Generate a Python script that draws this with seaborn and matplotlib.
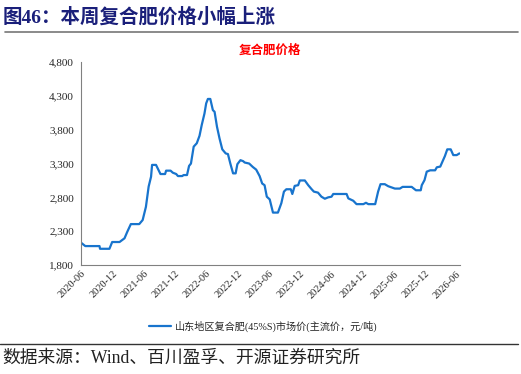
import pandas as pd
import matplotlib
matplotlib.use("Agg")
import matplotlib.pyplot as plt
import matplotlib.ticker as mticker
import seaborn as sns

# 山东地区复合肥(45%S)市场价 (元/吨)
dates = [
    "2020-06-01", "2020-06-26", "2020-09-17", "2020-09-20", "2020-11-14", "2020-11-30",
    "2021-01-12", "2021-02-10", "2021-02-26", "2021-03-19", "2021-05-07", "2021-05-27",
    "2021-06-15", "2021-07-01", "2021-07-15", "2021-07-21", "2021-08-13", "2021-09-08",
    "2021-10-05", "2021-10-11", "2021-11-06", "2021-11-19", "2021-12-09", "2021-12-19",
    "2022-01-13", "2022-01-21", "2022-02-10", "2022-02-22", "2022-03-05", "2022-03-21",
    "2022-04-08", "2022-04-24", "2022-05-07", "2022-05-23", "2022-06-02", "2022-06-12",
    "2022-06-26", "2022-07-11", "2022-07-21", "2022-08-04", "2022-08-19", "2022-09-04",
    "2022-09-24", "2022-10-07", "2022-10-21", "2022-11-06", "2022-11-21", "2022-12-01",
    "2022-12-19", "2023-01-04", "2023-01-13", "2023-02-08", "2023-03-01", "2023-03-21",
    "2023-04-10", "2023-04-25", "2023-05-09", "2023-05-22", "2023-06-08", "2023-06-27",
    "2023-07-26", "2023-08-15", "2023-08-30", "2023-09-13", "2023-10-09", "2023-10-18",
    "2023-11-01", "2023-11-21", "2023-12-01", "2023-12-30", "2024-01-19", "2024-02-08",
    "2024-02-21", "2024-03-16", "2024-04-05", "2024-04-25", "2024-05-14", "2024-06-03",
    "2024-06-13", "2024-08-30", "2024-09-09", "2024-10-08", "2024-10-27", "2024-12-06",
    "2024-12-21", "2025-01-04", "2025-02-13", "2025-03-02", "2025-03-16", "2025-04-10",
    "2025-04-30", "2025-06-08", "2025-07-07", "2025-07-23", "2025-09-14", "2025-10-09",
    "2025-11-06", "2025-11-12", "2025-11-28", "2025-12-11", "2025-12-31", "2026-01-29",
    "2026-02-08", "2026-02-28", "2026-03-13", "2026-03-27", "2026-04-10", "2026-04-30",
    "2026-05-15", "2026-06-04", "2026-06-20",
]
prices = [
    2130, 2080, 2080, 2040, 2040, 2140,
    2140, 2195, 2290, 2405, 2405, 2465,
    2660, 2960, 3105, 3280, 3280, 3145,
    3145, 3195, 3195, 3165, 3145, 3115,
    3115, 3130, 3130, 3265, 3300, 3550,
    3600, 3710, 3870, 4040, 4190, 4255,
    4255, 4090, 4065, 3845, 3670, 3510,
    3450, 3440, 3300, 3155, 3155, 3290,
    3350, 3335, 3315, 3300, 3250, 3210,
    3115, 3005, 2980, 2810, 2770, 2575,
    2575, 2715, 2885, 2920, 2920, 2850,
    2970, 2980, 3050, 3050, 2980, 2920,
    2885, 2870, 2810, 2780, 2800, 2810,
    2850, 2850, 2785, 2750, 2700, 2700,
    2720, 2700, 2700, 2885, 2995, 2995,
    2965, 2930, 2930, 2955, 2955, 2905,
    2905, 2980, 3055, 3180, 3200, 3200,
    3245, 3255, 3330, 3410, 3510, 3510,
    3425, 3425, 3450,
]
tick_labels = ["2020-06", "2020-12", "2021-06", "2021-12", "2022-06", "2022-12",
               "2023-06", "2023-12", "2024-06", "2024-12", "2025-06", "2025-12", "2026-06"]
y_ticks = [1800, 2300, 2800, 3300, 3800, 4300, 4800]

df = pd.DataFrame({"date": pd.to_datetime(dates), "price": prices})

sns.set_style("white")
plt.rcParams["font.family"] = ["Liberation Serif", "Noto Sans CJK SC"]

fig = plt.figure(figsize=(5.21, 3.74), dpi=100)
ax = fig.add_axes([0.1555, 0.2914, 0.727, 0.5426])

sns.lineplot(data=df, x="date", y="price", ax=ax, color="#1874CD", linewidth=1.6,
             label="山东地区复合肥(45%S)市场价(主流价，元/吨)", legend=False)

ax.set_ylim(1800, 4800)
ax.set_yticks(y_ticks)
ax.yaxis.set_major_formatter(mticker.StrMethodFormatter("{x:,.0f}"))
ax.set_xlim(pd.Timestamp("2020-06-01"), pd.Timestamp("2026-06-22"))
ax.set_xticks(pd.to_datetime([t + "-01" for t in tick_labels]))
ax.set_xticklabels(tick_labels, rotation=45, ha="right", rotation_mode="anchor")
ax.set_xlabel("")
ax.set_ylabel("")
ax.tick_params(axis="y", labelsize=8, length=3, direction="out", color="#808080", pad=2)
ax.tick_params(axis="x", labelsize=7.5, length=3, direction="in", color="#808080", pad=3)
for s in ["top", "right"]:
    ax.spines[s].set_visible(False)
for s in ["left", "bottom"]:
    ax.spines[s].set_color("#808080")
    ax.spines[s].set_linewidth(0.8)

ax.set_title("复合肥价格", color="#FF0000", fontsize=9, fontweight="bold",
             family=["Noto Sans CJK SC"], pad=6)

h, l = ax.get_legend_handles_labels()
fig.legend(h, l, loc="center", bbox_to_anchor=(0.505, 0.128), frameon=False,
           handlelength=2.2, handletextpad=0.4,
           prop={"family": ["Liberation Serif", "Noto Sans CJK SC"], "size": 7.3})

fig.text(0.005, 0.955, "图46：本周复合肥价格小幅上涨", color="#1A1F7A", fontsize=14,
         fontweight="bold", va="center", ha="left",
         family=["Liberation Serif", "Noto Sans CJK SC"])
fig.add_artist(plt.Line2D([0.01, 0.995], [0.915, 0.915], color="#777777", linewidth=1.2))
fig.add_artist(plt.Line2D([0.0, 0.995], [0.08, 0.08], color="#333333", linewidth=1.0))
fig.text(0.005, 0.043, "数据来源：Wind、百川盈孚、开源证券研究所", color="#222222",
         fontsize=12.8, va="center", ha="left",
         family=["Liberation Serif", "Noto Sans CJK SC"])

fig.savefig("out.png", dpi=100)
